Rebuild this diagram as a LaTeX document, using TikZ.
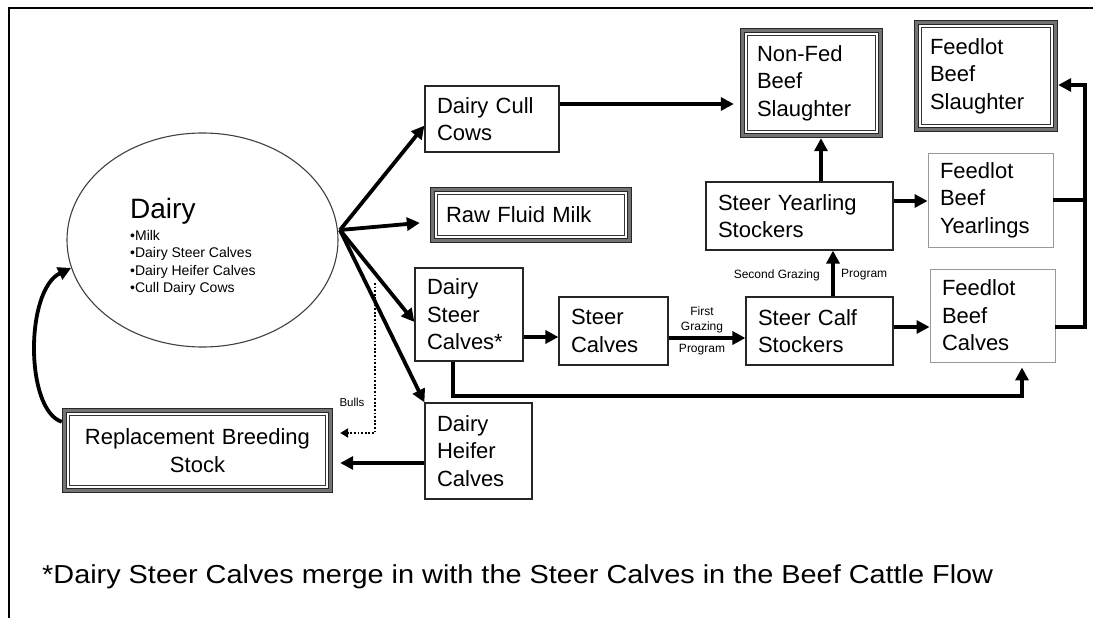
\documentclass[tikz,border=0pt]{standalone}
\usepackage{fontspec}
\usepackage{graphicx}
\setmainfont{Liberation Sans}
\usetikzlibrary{arrows.meta,shapes.geometric,calc}
\newcommand\bxfont{\fontsize{22}{27.5}\selectfont}
\newcommand\smallfont{\fontsize{12}{15}\selectfont}
\begin{document}
\begin{tikzpicture}[x=1pt,y=-1pt,
  box/.style={rectangle, draw=black!85, line width=1.2pt, inner ysep=0pt, align=left, font=\bxfont},
  softbox/.style={box, draw=black!40, line width=0.9pt},
  plainbox/.style={rectangle, inner ysep=0pt, align=left, font=\bxfont},
  arr/.style={line width=3.8pt, -{Triangle[length=13pt,width=13pt]}},
  ln/.style={line width=3.8pt},
  dotarr/.style={line width=2.4pt, dash pattern=on 1.8pt off 1.8pt, -{Triangle[length=8pt,width=9pt]}},
  lbl/.style={inner sep=0pt, font=\smallfont, align=center}]
\useasboundingbox (0,0) rectangle (1093,618);
\fill[white] (0,0) rectangle (1093,618);
% outer frame (left and top edges)
\draw[line width=2pt] (9,618) -- (9,8) -- (1093,8);

% dairy herd
\node[ellipse, draw=black!75, line width=1.1pt, minimum width=271pt, minimum height=214pt] (dairy) at (202.5,240) {};
\node[anchor=base west, inner sep=0pt, font=\fontsize{28}{30}\selectfont] (dairyhead) at (130,218) {Dairy};
\node[anchor=north west, inner sep=0pt, align=left, font=\fontsize{14}{17.5}\selectfont] (dairylist) at (130,230) {•Milk\\•Dairy Steer Calves\\•Dairy Heifer Calves\\•Cull Dairy Cows};
\coordinate (hub) at (340,230);

% plain boxes
\node[box, minimum width=134pt, minimum height=66pt, text width=110pt, inner xsep=12pt] (cull) at (492,119) {Dairy Cull\\Cows};
\node[box, minimum width=108pt, minimum height=93pt, text width=84pt, inner xsep=12pt] (dsc) at (469,314.5) {Dairy\\Steer\\Calves*};
\node[box, minimum width=107pt, minimum height=96pt, text width=83pt, inner xsep=12pt] (dhc) at (478.5,451) {Dairy\\Heifer\\Calves};
\node[box, minimum width=109pt, minimum height=68pt, text width=85pt, inner xsep=12pt] (sc) at (613.5,331) {Steer\\Calves};
\node[box, minimum width=147pt, minimum height=68pt, text width=123pt, inner xsep=12pt] (scs) at (819.5,331) {Steer Calf\\Stockers};
\node[box, minimum width=187pt, minimum height=68pt, text width=163pt, inner xsep=12pt] (sys) at (799.5,216) {Steer Yearling\\Stockers};
\node[softbox, minimum width=125pt, minimum height=93pt, text width=101pt, inner xsep=12pt] (fbc) at (992.5,315.5) {Feedlot\\Beef\\Calves};
\node[softbox, minimum width=125pt, minimum height=94pt, text width=101pt, inner xsep=12pt] (fby) at (990.5,200) {Feedlot\\Beef\\Yearlings};

% boxes with a heavy triple border
\node[plainbox, minimum width=202pt, minimum height=56pt, text width=170pt, inner xsep=16pt] (milk) at (531,215) {Raw Fluid Milk};
\node[plainbox, minimum width=271pt, minimum height=85pt, text width=251pt, inner xsep=10pt, align=center] (rbs) at (197.5,450.5) {Replacement Breeding\\Stock};
\node[plainbox, minimum width=143pt, minimum height=110pt, text width=109pt, inner xsep=17pt] (nfs) at (811.5,83) {Non-Fed\\Beef\\Slaughter};
\node[plainbox, minimum width=144pt, minimum height=112pt, text width=112pt, inner xsep=16pt] (fbs) at (986,76) {Feedlot\\Beef\\Slaughter};
\foreach \n in {milk,rbs,nfs,fbs} {
  \draw[line width=1.5pt, draw=black!85, double=black!55, double distance=2.4pt]
    ([shift={(2.7pt,-2.7pt)}]\n.north west) rectangle ([shift={(-2.7pt,2.7pt)}]\n.south east);
  \draw[line width=1pt, draw=black!80]
    ([shift={(8pt,-8pt)}]\n.north west) rectangle ([shift={(-8pt,8pt)}]\n.south east);
}

% flows out of the dairy herd
\draw[arr] (hub) -- ([yshift=27pt]cull.south west);
\draw[arr, shorten >=10pt] (hub) -- ([yshift=-7pt]milk.west);
\draw[arr] (hub) -- ([yshift=-7.5pt]dsc.west);
\draw[arr] (hub) -- (dhc.north west);
\coordinate (bullsfrom) at (375,283);
\draw[dotarr] (bullsfrom) |- ([xshift=7pt,yshift=17.5pt]rbs.east);
\node[lbl, font=\fontsize{11.5}{14}\selectfont] (bulls) at (352,402) {Bulls};
\draw[arr, shorten >=7pt] ([yshift=-12pt]dhc.west) -- ([yshift=-12pt]dhc.west -| rbs.east);
\draw[arr] ([yshift=-14pt]rbs.north west) .. controls (25,410) and (25,290) .. (dairy.192);

% beef chain
\draw[arr, shorten >=6pt] ([yshift=15pt]cull.east) -- ([yshift=15pt]cull.east -| nfs.west);
\draw[arr] ([yshift=-22.5pt]dsc.east) -- ([yshift=-22.5pt]dsc.east -| sc.west);
\draw[arr] ([yshift=-7pt]sc.east) -- ([yshift=-7pt]sc.east -| scs.west);
\node[lbl] (first) at (702,319.5) {First\\Grazing};
\node[lbl] (prog1) at (702,350) {Program};
\draw[arr] ([yshift=4pt]scs.east) -- ([yshift=4pt]scs.east -| fbc.west);
\draw[arr] ([xshift=13.5pt]scs.north) -- ([xshift=13.5pt]scs.north |- sys.south);
\node[lbl, anchor=east] (second) at (820,275) {Second Grazing};
\node[lbl, anchor=west] (prog2) at (841,275) {Program};
\draw[arr] ([xshift=21.5pt]sys.north) -- ([xshift=21.5pt]sys.north |- nfs.south);
\draw[arr] ([yshift=15pt]sys.east) -- ([yshift=15pt]sys.east -| fby.west);
\draw[arr, shorten >=5pt] ([xshift=-16pt]dsc.south) -- ++(0,34) -| ([xshift=29.5pt]fbc.south);
\coordinate (rail) at (1085,85);
\draw[arr] ([yshift=-11.5pt]fbc.east) -| (rail) -- (rail -| fbs.east);
\draw[ln] (fby.east) -- (fby.east -| rail);

% footnote
\node[anchor=base west, inner sep=0pt, font=\fontsize{26}{30}\selectfont] (note) at (42,583)
  {\resizebox{951pt}{\height}{*Dairy Steer Calves merge in with the Steer Calves in the Beef Cattle Flow}};
\end{tikzpicture}
\end{document}
